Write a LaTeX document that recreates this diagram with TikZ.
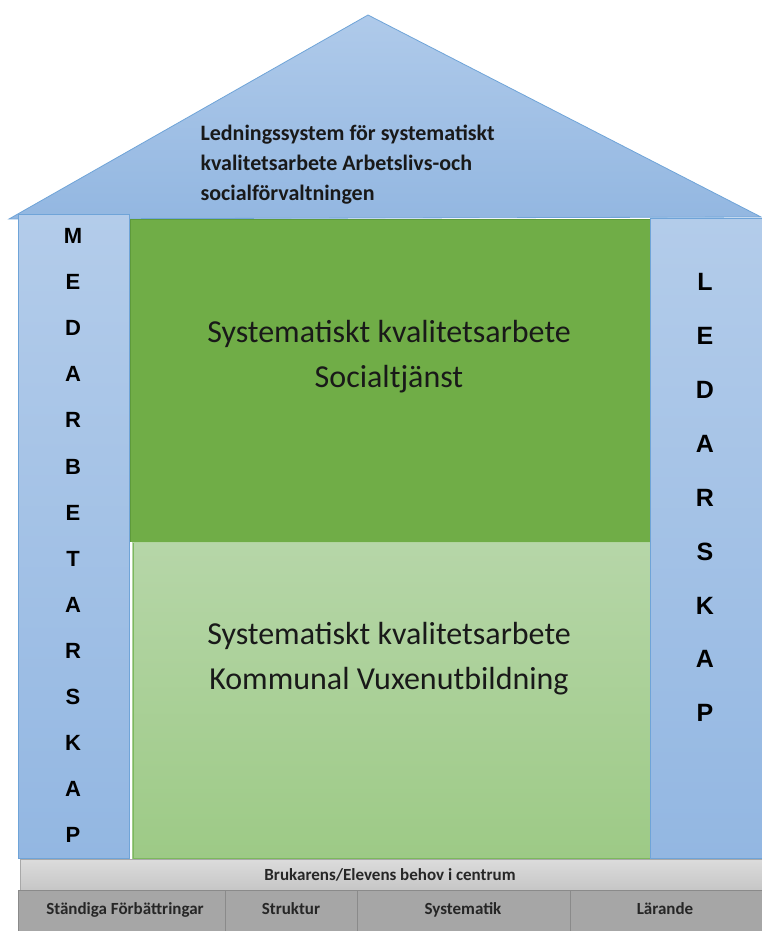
\documentclass[tikz,border=0pt]{standalone}
\usepackage{fontspec}
\setmainfont{Carlito}
\newfontfamily\arialf{Liberation Sans}
\begin{document}
\begin{tikzpicture}[x=1pt,y=-1pt,
  roofst/.style={draw=roofline, line width=0.8pt, top color=roofTop, bottom color=roofBot},
  colst/.style={draw=roofline, line width=0.8pt, top color=colTop, bottom color=colBot},
  colletter/.style={font=\arialf\bfseries\fontsize{22}{22}\selectfont, text=black},
  colletterR/.style={font=\arialf\bfseries\fontsize{25}{25}\selectfont, text=black},
  bigtxt/.style={font=\fontsize{32}{45}\selectfont, align=center, text=black!90},
  bartxt/.style={font=\bfseries\fontsize{17}{17}\selectfont, text=black!85, anchor=base},
  cellst/.style={draw=cellline, line width=0.8pt, fill=cellfill}
]
\definecolor{roofTop}{HTML}{AFCAEA}
\definecolor{roofBot}{HTML}{93B7E1}
\definecolor{roofline}{HTML}{6FA4D8}
\definecolor{colTop}{HTML}{B3CCEA}
\definecolor{colBot}{HTML}{93B7E2}
\definecolor{darkgreen}{HTML}{70AD47}
\definecolor{dgline}{HTML}{5E9A3A}
\definecolor{lgTop}{HTML}{B6D6A8}
\definecolor{lgBot}{HTML}{9DCA86}
\definecolor{lgline}{HTML}{7DB85E}
\definecolor{barTop}{HTML}{DCDCDC}
\definecolor{barBot}{HTML}{C6C6C6}
\definecolor{barline}{HTML}{A8A8A8}
\definecolor{cellfill}{HTML}{A6A6A6}
\definecolor{cellline}{HTML}{8A8A8A}
\useasboundingbox (0,0) rectangle (761,931);
\fill[white] (0,0) rectangle (761,931);
% roof
\draw[roofst] (9,219) -- (368,15) -- (761,217) -- cycle;
\node[anchor=west, align=left, font=\bfseries\fontsize{22}{30}\selectfont, text=black!90] (rooftxt) at (197,165)
  {Ledningssystem för systematiskt\\kvalitetsarbete Arbetslivs-och\\socialförvaltningen};
% green blocks
\fill[darkgreen] (129,219) rectangle (650,542);
\draw[dgline, line width=0.8pt] (129,219) -- (650,219);
\draw[dgline, line width=1pt] (130,219) -- (130,542);
\node[bigtxt] (sg) at (389,357) {Systematiskt kvalitetsarbete\\Socialtjänst};
\shade[top color=lgTop, bottom color=lgBot] (132,542) rectangle (650,858);
\draw[lgline, line width=1pt] (133,542) -- (133,858) -- (650,858);
\draw[lgline!60, line width=0.8pt] (133,542) -- (650,542);
\node[bigtxt] (vx) at (389,659) {Systematiskt kvalitetsarbete\\Kommunal Vuxenutbildning};
% columns
\draw[colst] (18,214) rectangle (129,858);
\draw[colst] (650,218) rectangle (762,858);
\foreach \L [count=\i from 0] in {M,E,D,A,R,B,E,T,A,R,S,K,A,P}
  \node[colletter] (l\i) at (73,{236+\i*46.10}) {\L};
\foreach \L [count=\i from 0] in {L,E,D,A,R,S,K,A,P}
  \node[colletterR] (r\i) at (705,{282+\i*53.9}) {\L};
% bottom bars
\shade[top color=barTop, bottom color=barBot] (20,859) rectangle (762,890);
\draw[barline, line width=0.8pt] (20,890) -- (20,859) -- (762,859);
\node[bartxt] (bru) at (390,880) {Brukarens/Elevens behov i centrum};
\draw[cellst] (18,890) rectangle (225,932);
\draw[cellst] (225,890) rectangle (357,932);
\draw[cellst] (357,890) rectangle (570,932);
\draw[cellst] (570,890) rectangle (762,932);
\node[bartxt] (c1) at (125,914) {Ständiga Förbättringar};
\node[bartxt] (c2) at (291,914) {Struktur};
\node[bartxt] (c3) at (463,914) {Systematik};
\node[bartxt] (c4) at (665,914) {Lärande};
\end{tikzpicture}
\end{document}
